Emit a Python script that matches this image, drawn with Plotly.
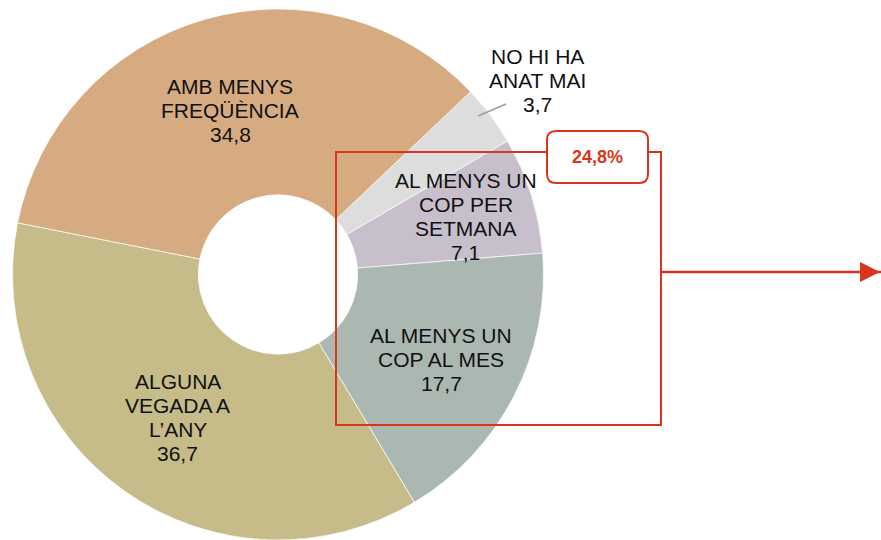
import math
import plotly.graph_objects as go

# data
categories = ["NO HI HA ANAT MAI", "AL MENYS UN COP PER SETMANA", "AL MENYS UN COP AL MES",
              "ALGUNA VEGADA A L’ANY", "AMB MENYS FREQÜÈNCIA"]
label_lines = [["NO HI HA", "ANAT MAI"], ["AL MENYS UN", "COP PER", "SETMANA"],
               ["AL MENYS UN", "COP AL MES"], ["ALGUNA", "VEGADA A", "L’ANY"],
               ["AMB MENYS", "FREQÜÈNCIA"]]
values = [3.7, 7.1, 17.7, 36.7, 34.8]
colors = ["#DDDDDD", "#C8BFCD", "#ABB8B1", "#C6BC89", "#D6AB81"]
grouped = [1, 2]  # slices inside the red box

W, H = 881, 540
cx, cy, R = 278, 275, 266
rotation = 46.5
label_radius = [1.22, 0.74, 0.69, 0.655, 0.645]  # fraction of outer radius
RED = "#D8361C"


def px(x):
    return x / W


def py(y):
    return 1 - y / H


def fmt(v):
    return f"{v:.1f}".replace(".", ",")


fig = go.Figure(go.Pie(
    labels=categories, values=values, sort=False, direction="clockwise",
    rotation=rotation, hole=0.30, textinfo="none", hoverinfo="label+value",
    marker=dict(colors=colors, line=dict(color="white", width=0.7)),
    domain=dict(x=[px(cx - R), px(cx + R)], y=[0, py(cy - R)]),
    showlegend=False,
))

# labels at the middle of each slice
annotations = []
total = sum(values)
cum = 0
for i, v in enumerate(values):
    ang = math.radians(rotation + (cum + v / 2) / total * 360)
    cum += v
    lx = cx + label_radius[i] * R * math.sin(ang)
    ly = cy - label_radius[i] * R * math.cos(ang)
    lines = label_lines[i] + [fmt(v)]
    n = len(lines)
    for j, t in enumerate(lines):
        yy = ly + (j - (n - 1) / 2) * 24
        annotations.append(dict(x=px(lx), y=py(yy), xref="paper", yref="paper",
                                text=t, showarrow=False, xanchor="center", yanchor="middle",
                                font=dict(family="Liberation Sans, Arial", size=21, color="#111111")))

shapes = []
# leader line for the small slice
shapes.append(dict(type="line", xref="paper", yref="paper",
                   x0=px(478), y0=py(116), x1=px(506), y1=py(104),
                   line=dict(color="#9E9E9E", width=1.5)))
# red box around grouped slices
shapes.append(dict(type="rect", xref="paper", yref="paper",
                   x0=px(336), y0=py(152), x1=px(661), y1=py(425),
                   line=dict(color=RED, width=2)))
# rounded label box
bx0, by0, bx1, by1, r = 547, 131, 648, 183, 9
path = (f"M {px(bx0 + r)},{py(by0)} L {px(bx1 - r)},{py(by0)} "
        f"Q {px(bx1)},{py(by0)} {px(bx1)},{py(by0 + r)} L {px(bx1)},{py(by1 - r)} "
        f"Q {px(bx1)},{py(by1)} {px(bx1 - r)},{py(by1)} L {px(bx0 + r)},{py(by1)} "
        f"Q {px(bx0)},{py(by1)} {px(bx0)},{py(by1 - r)} L {px(bx0)},{py(by0 + r)} "
        f"Q {px(bx0)},{py(by0)} {px(bx0 + r)},{py(by0)} Z")
shapes.append(dict(type="path", xref="paper", yref="paper", path=path,
                   fillcolor="white", line=dict(color=RED, width=2)))

group_total = sum(values[i] for i in grouped)
annotations.append(dict(x=px((bx0 + bx1) / 2), y=py((by0 + by1) / 2), xref="paper", yref="paper",
                        xanchor="center", yanchor="middle",
                        text=f"<b>{fmt(group_total)}%</b>", showarrow=False,
                        font=dict(family="Liberation Sans, Arial", size=18, color=RED)))
# arrow to the right (horizontal line plus filled head, tip runs off the page)
shapes.append(dict(type="line", xref="paper", yref="paper",
                   x0=px(661), y0=py(272), x1=px(881), y1=py(272),
                   line=dict(color=RED, width=2.5)))
annotations.append(dict(x=px(893), y=py(272), ax=-20, ay=0,
                        xref="paper", yref="paper", axref="pixel", ayref="pixel",
                        text="", showarrow=True, arrowhead=2, arrowsize=1.6,
                        arrowwidth=2.5, arrowcolor=RED))

fig.update_layout(width=W, height=H, margin=dict(l=0, r=0, t=0, b=0),
                  paper_bgcolor="white", plot_bgcolor="white",
                  shapes=shapes, annotations=annotations)

# drop the default page margin so the figure fills the window
fig.write_html("out.html", config={"displayModeBar": False},
               post_script="document.body.style.margin = '0';")
